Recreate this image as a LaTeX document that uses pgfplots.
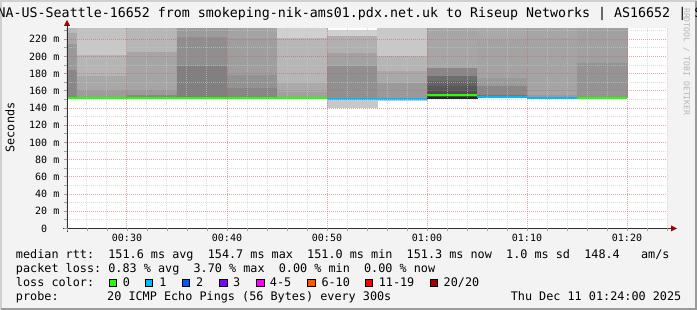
\documentclass[border=0pt]{standalone}
\usepackage{pgfplots}
\pgfplotsset{compat=1.18}
\usepackage{fontspec}
\setmainfont{DejaVu Sans Mono}
\frenchspacing
\definecolor{bgc}{HTML}{F3F3F3}
\definecolor{frameA}{HTML}{D0D0D0}
\definecolor{frameB}{HTML}{9A9A9A}
\definecolor{mgrid}{RGB}{200,100,100}
\definecolor{ngrid}{RGB}{200,200,200}
\definecolor{axisc}{HTML}{303030}
\definecolor{arrowc}{HTML}{A00000}
\definecolor{wmark}{HTML}{B4B4B4}
\definecolor{loss0}{HTML}{26FF00}
\definecolor{loss1}{HTML}{00B8FF}
\definecolor{loss2}{HTML}{0059FF}
\definecolor{loss3}{HTML}{7E00FF}
\definecolor{loss4}{HTML}{FF00FF}
\definecolor{loss6}{HTML}{FF5500}
\definecolor{loss11}{HTML}{FF0000}
\definecolor{loss20}{HTML}{A10000}
% smoke band: x1, x2, low, high, grey level (0-255)
\newcommand{\band}[5]{%
  \addplot[draw={rgb,255:red,#5;green,#5;blue,#5}, line width=0.3pt,
    fill={rgb,255:red,#5;green,#5;blue,#5}]
    coordinates {(#1,#3) (#2,#3) (#2,#4) (#1,#4) (#1,#3)};}
\newcommand{\med}[4]{%
  \addplot[#4, line width=2pt] coordinates {(#1,#3) (#2,#3)};}
\newcommand{\legfont}{\fontsize{11.8}{14}\selectfont}
\begin{document}
\begin{tikzpicture}[x=1pt,y=1pt]
\useasboundingbox (0,0) rectangle (697,310);
\fill[bgc] (0,0) rectangle (697,310);
\draw[frameA, line width=2pt] (1,0) -- (1,309) -- (697,309);
\draw[frameB, line width=2pt] (1,1) -- (696,1) -- (696,309);
\begin{axis}[
  at={(67pt,81.5pt)}, anchor=south west,
  scale only axis, width=600pt, height=200.4pt,
  xmin=24, xmax=84, ymin=0, ymax=233,
  axis background/.style={fill=white},
  axis on top,
  axis line style={draw=none},
  major tick length=0pt, minor tick length=0pt,
  xtick={30,40,50,60,70,80},
  xticklabels={00:30,00:40,00:50,01:00,01:10,01:20},
  minor xtick={24,26,28,32,34,36,38,42,44,46,48,52,54,56,58,62,64,66,68,72,74,76,78,82,84},
  ytick={0,20,40,60,80,100,120,140,160,180,200,220},
  yticklabels={0\phantom{~m},20~m,40~m,60~m,80~m,100~m,120~m,140~m,160~m,180~m,200~m,220~m},
  minor ytick={10,30,50,70,90,110,130,150,170,190,210,230},
  grid=both,
  major grid style={mgrid, opacity=0.55, line width=1pt, dash pattern=on 1pt off 1pt},
  minor grid style={ngrid, opacity=0.6, line width=1pt, dash pattern=on 1pt off 1pt},
  tick label style={font=\fontsize{10}{12}\selectfont, inner sep=0pt},
  xticklabel style={anchor=north, yshift=-5.3pt},
  yticklabel style={anchor=east, xshift=-7.5pt},
  ylabel={Seconds},
  ylabel style={font=\legfont, at={(axis description cs:-0.095,0.504)}, anchor=center, rotate=0},
  title={NA-US-Seattle-16652 from smokeping-nik-ams01.pdx.net.uk to Riseup Networks | AS16652 | S},
  title style={font=\fontsize{13.3}{16}\selectfont, at={(axis description cs:0.4717,1.021)}, anchor=base, inner sep=0pt},
]
% 00:24-00:25
\band{24}{25}{152.7}{184.9}{136}
\band{24}{25}{184.9}{215.5}{153}
\band{24}{25}{215.5}{228.3}{168}
\band{24}{25}{228.3}{233}{184}
% 00:25-00:30
\band{25}{30}{152.7}{160.5}{156}
\band{25}{30}{160.5}{178.7}{168}
\band{25}{30}{178.7}{203}{181}
\band{25}{30}{203}{221}{200}
\band{25}{30}{221}{233}{194}
% 00:30-00:35
\band{30}{35}{152.7}{156.6}{136}
\band{30}{35}{156.6}{160.5}{154}
\band{30}{35}{160.5}{205.8}{165}
\band{30}{35}{205.8}{233}{182}
% 00:35-00:40
\band{35}{40}{152.7}{153.9}{90}
\band{35}{40}{153.9}{189.5}{128}
\band{35}{40}{189.5}{223.3}{143}
\band{35}{40}{223.3}{233}{155}
% 00:40-00:45
\band{40}{45}{152.7}{164}{135}
\band{40}{45}{164}{179}{146}
\band{40}{45}{179}{222.5}{158}
\band{40}{45}{222.5}{233}{163}
% 00:45-00:50
\band{45}{50}{152.7}{159.7}{160}
\band{45}{50}{159.7}{170.2}{170}
\band{45}{50}{170.2}{222.5}{182}
\band{45}{50}{222.5}{233}{208}
% 00:50-00:55
\band{50}{55}{140.7}{150.3}{200}
\band{50}{55}{150.3}{189.5}{144}
\band{50}{55}{189.5}{205}{162}
\band{50}{55}{205}{225.2}{176}
\band{50}{55}{225.2}{230.2}{208}
% 00:55-01:00
\band{55}{60}{149}{150.4}{200}
\band{55}{60}{150.4}{170.2}{154}
\band{55}{60}{170.2}{183.7}{168}
\band{55}{60}{183.7}{201.2}{181}
\band{55}{60}{201.2}{233}{200}
% 01:00-01:05
\band{60}{65}{151.5}{154}{40}
\band{60}{65}{154}{160.5}{78}
\band{60}{65}{160.5}{166.3}{87}
\band{60}{65}{166.3}{172}{98}
\band{60}{65}{172}{177.9}{110}
\band{60}{65}{177.9}{187.6}{136}
\band{60}{65}{187.6}{233}{166}
% 01:05-01:10
\band{65}{70}{152.3}{153.9}{102}
\band{65}{70}{153.9}{156.6}{119}
\band{65}{70}{156.6}{166.3}{136}
\band{65}{70}{166.3}{176}{153}
\band{65}{70}{176}{220.5}{163}
\band{65}{70}{220.5}{233}{168}
% 01:10-01:15
\band{70}{75}{152.7}{156.6}{154}
\band{70}{75}{156.6}{222.5}{164}
\band{70}{75}{222.5}{233}{166}
% 01:15-01:20
\band{75}{80}{152.7}{193.4}{148}
\band{75}{80}{193.4}{233}{160}
% median rtt, coloured by loss
\med{24}{25}{151.6}{loss0}
\med{25}{30}{151.6}{loss0}
\med{30}{35}{151.4}{loss0}
\med{35}{40}{151.8}{loss0}
\med{40}{45}{151.6}{loss0}
\med{45}{50}{151.6}{loss0}
\med{50}{55}{151.0}{loss1}
\med{55}{60}{151.0}{loss1}
\med{60}{65}{154.7}{loss0}
\med{65}{70}{152.6}{loss1}
\med{70}{75}{151.6}{loss1}
\med{75}{80}{151.3}{loss0}
\end{axis}
% axes with arrows
\draw[axisc, line width=1pt] (67,77.5) -- (67,284);
\draw[axisc, line width=1pt] (63,81.5) -- (671,81.5);
\fill[arrowc] (64,284) -- (70,284) -- (67,290) -- cycle;
\fill[arrowc] (671,78.5) -- (671,84.5) -- (677,81.5) -- cycle;
\foreach \i in {0,...,30} \draw[ngrid!80!black, line width=0.8pt] (67+20*\i,81.5) -- (67+20*\i,79);
\foreach \i in {0,...,23} \draw[ngrid!80!black, line width=0.8pt] (67,81.5+8.6*\i) -- (64,81.5+8.6*\i);
% watermark
\node[rotate=-90, anchor=west, inner sep=0pt, text=wmark, font=\fontsize{8.1}{10}\selectfont] at (686.5,302) {RRDTOOL / TOBI OETIKER};
% legend
\node[anchor=base west, inner sep=0pt, font=\legfont] at (15.8,51.7) {median rtt:~~151.6 ms avg~~154.7 ms max~~151.0 ms min~~151.3 ms now~~1.0 ms sd~~148.4~~~am/s};
\node[anchor=base west, inner sep=0pt, font=\legfont] at (15.8,37.7) {packet loss: 0.83 \% avg~~3.70 \% max~~0.00 \% min~~0.00 \% now};
\node[anchor=base west, inner sep=0pt, font=\legfont] at (15.8,23.7) {loss color:};
\filldraw[fill=loss0, draw=black, line width=0.8pt] (108.9,23.5) rectangle (116.4,31);
\node[anchor=base west, inner sep=0pt, font=\legfont] at (122.6,23.7) {0};
\filldraw[fill=loss1, draw=black, line width=0.8pt] (145.3,23.5) rectangle (152.8,31);
\node[anchor=base west, inner sep=0pt, font=\legfont] at (159.1,23.7) {1};
\filldraw[fill=loss2, draw=black, line width=0.8pt] (182.2,23.5) rectangle (189.7,31);
\node[anchor=base west, inner sep=0pt, font=\legfont] at (195.9,23.7) {2};
\filldraw[fill=loss3, draw=black, line width=0.8pt] (219.6,23.5) rectangle (227.1,31);
\node[anchor=base west, inner sep=0pt, font=\legfont] at (232.8,23.7) {3};
\filldraw[fill=loss4, draw=black, line width=0.8pt] (256.4,23.5) rectangle (263.9,31);
\node[anchor=base west, inner sep=0pt, font=\legfont] at (269.7,23.7) {4-5};
\filldraw[fill=loss6, draw=black, line width=0.8pt] (307.6,23.5) rectangle (315.1,31);
\node[anchor=base west, inner sep=0pt, font=\legfont] at (321.3,23.7) {6-10};
\filldraw[fill=loss11, draw=black, line width=0.8pt] (365.3,23.5) rectangle (372.8,31);
\node[anchor=base west, inner sep=0pt, font=\legfont] at (378.6,23.7) {11-19};
\filldraw[fill=loss20, draw=black, line width=0.8pt] (430.2,23.5) rectangle (437.7,31);
\node[anchor=base west, inner sep=0pt, font=\legfont] at (443.5,23.7) {20/20};
\node[anchor=base west, inner sep=0pt, font=\legfont] at (15.8,9.7) {probe:};
\node[anchor=base west, inner sep=0pt, font=\legfont] at (107.0,9.7) {20 ICMP Echo Pings (56 Bytes) every 300s};
\node[anchor=base east, inner sep=0pt, font=\legfont] at (681.5,9.7) {Thu Dec 11 01:24:00 2025};
\end{tikzpicture}
\end{document}
